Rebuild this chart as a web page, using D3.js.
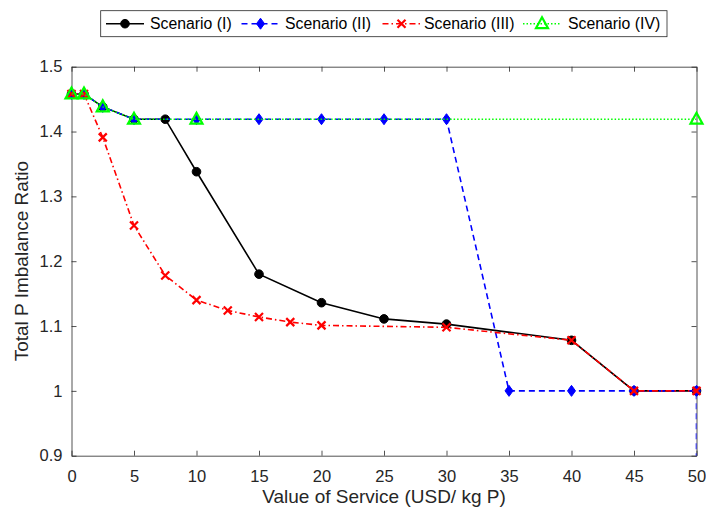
<!DOCTYPE html>
<html>
<head>
<meta charset="utf-8">
<script src="https://cdn.jsdelivr.net/npm/d3@7"></script>
<style>
  body { margin: 0; background: #fff; }
  svg { display: block; font-family: "Liberation Sans", Arial, sans-serif; }
</style>
</head>
<body>
<svg id="svg" width="706" height="515"></svg>
<script>
// data
const seriesNames = ["Scenario (I)", "Scenario (II)", "Scenario (III)", "Scenario (IV)"];

const xS1 = [0, 1, 2.5, 5, 7.5, 10, 15, 20, 25, 30, 40, 45, 50];
const yS1 = [1.458, 1.458, 1.438, 1.419, 1.419, 1.338, 1.180, 1.136, 1.111, 1.103, 1.078, 1.0, 1.0];

const xS2 = [0, 1, 2.5, 5, 10, 15, 20, 25, 30, 35, 40, 45, 50, 50];
const yS2 = [1.458, 1.458, 1.438, 1.419, 1.419, 1.419, 1.419, 1.419, 1.419, 1.0, 1.0, 1.0, 1.0, 0.0];

const xS3 = [0, 1, 2.5, 5, 7.5, 10, 12.5, 15, 17.5, 20, 30, 40, 45, 50];
const yS3 = [1.458, 1.458, 1.391, 1.255, 1.178, 1.140, 1.124, 1.114, 1.106, 1.101, 1.098, 1.078, 1.0, 1.0];

const xS4 = [0, 1, 2.5, 5, 10, 50];
const yS4 = [1.458, 1.458, 1.438, 1.419, 1.419, 1.419];

const xTicks = [0, 5, 10, 15, 20, 25, 30, 35, 40, 45, 50];
const yTicks = [0.9, 1.0, 1.1, 1.2, 1.3, 1.4, 1.5];
const yTickLabels = ["0.9", "1", "1.1", "1.2", "1.3", "1.4", "1.5"];

const xLabel = "Value of Service (USD/ kg P)";
const yLabel = "Total P Imbalance Ratio";

const axisColor = "#262626";
const plotLeft = 71.5, plotRight = 696.5, plotTop = 66.7, plotBottom = 455.7;

const svg = d3.select("#svg");

const xScale = d3.scaleLinear().domain([0, 50]).range([plotLeft, plotRight]);
const yScale = d3.scaleLinear().domain([0.9, 1.5]).range([plotBottom, plotTop]);

svg.append("defs").append("clipPath").attr("id", "plotclip")
  .append("rect")
  .attr("x", plotLeft).attr("y", plotTop)
  .attr("width", plotRight - plotLeft).attr("height", plotBottom - plotTop);

// axes (ticks point inwards, box on)
const styleAxis = function(sel){
  sel.selectAll("path, line").attr("stroke", axisColor).attr("stroke-width", 0.8);
  sel.selectAll("text").attr("fill", axisColor).attr("font-size", "16.5px")
    .attr("font-family", "Liberation Sans, Arial, sans-serif");
};

svg.append("g").attr("transform", `translate(0,${plotBottom})`)
  .call(d3.axisBottom(xScale).tickValues(xTicks).tickFormat(d3.format("d"))
    .tickSizeInner(-5).tickSizeOuter(0).tickPadding(15))
  .call(styleAxis);

svg.append("g").attr("transform", `translate(0,${plotTop})`)
  .call(d3.axisTop(xScale).tickValues(xTicks).tickFormat("")
    .tickSizeInner(-5).tickSizeOuter(0))
  .call(styleAxis);

svg.append("g").attr("transform", `translate(${plotLeft},0)`)
  .call(d3.axisLeft(yScale).tickValues(yTicks).tickFormat((d, i) => yTickLabels[i])
    .tickSizeInner(-5).tickSizeOuter(0).tickPadding(9))
  .call(styleAxis);

svg.append("g").attr("transform", `translate(${plotRight},0)`)
  .call(d3.axisRight(yScale).tickValues(yTicks).tickFormat("")
    .tickSizeInner(-5).tickSizeOuter(0))
  .call(styleAxis);

// axis labels
svg.append("text")
  .attr("x", (plotLeft + plotRight) / 2).attr("y", 503)
  .attr("text-anchor", "middle")
  .attr("font-size", "19px").attr("fill", axisColor)
  .text(xLabel);

svg.append("text")
  .attr("transform", `translate(28,${(plotTop + plotBottom) / 2}) rotate(-90)`)
  .attr("text-anchor", "middle")
  .attr("font-size", "19px").attr("fill", axisColor)
  .text(yLabel);

// markers
const drawMarker = function(g, kind, x, y){
  if(kind === "circle"){
    g.append("circle").attr("cx", x).attr("cy", y).attr("r", 4.3)
      .attr("fill", "#000").attr("stroke", "#000");
  } else if(kind === "diamond"){
    g.append("path")
      .attr("d", `M${x},${y - 5.5}L${x + 4},${y}L${x},${y + 5.5}L${x - 4},${y}Z`)
      .attr("fill", "#0000ff").attr("stroke", "#0000ff");
  } else if(kind === "cross"){
    g.append("path")
      .attr("d", `M${x - 4},${y - 4}L${x + 4},${y + 4}M${x - 4},${y + 4}L${x + 4},${y - 4}`)
      .attr("stroke", "#ff0000").attr("stroke-width", 2.2).attr("fill", "none");
  } else if(kind === "triangle"){
    g.append("path")
      .attr("d", `M${x},${y - 6.5}L${x + 6},${y + 4.5}L${x - 6},${y + 4.5}Z`)
      .attr("stroke", "#00ff00").attr("stroke-width", 2.2).attr("fill", "none");
  }
};

const series = [
  {name: seriesNames[0], xs: xS1, ys: yS1, color: "#000000", dash: null, marker: "circle"},
  {name: seriesNames[1], xs: xS2, ys: yS2, color: "#0000ff", dash: "6,4", marker: "diamond"},
  {name: seriesNames[2], xs: xS3, ys: yS3, color: "#ff0000", dash: "6,3,1.5,3", marker: "cross"},
  {name: seriesNames[3], xs: xS4, ys: yS4, color: "#00ff00", dash: "1.5,2", marker: "triangle"}
];

const line = d3.line().x(d => xScale(d[0])).y(d => yScale(d[1]));
const inView = p => p[1] >= yScale.domain()[0] && p[1] <= yScale.domain()[1];

series.forEach(s => {
  const pts = s.xs.map((x, i) => [x, s.ys[i]]);
  const g = svg.append("g");
  // the line is clipped to the axes, markers inside the range are drawn whole
  g.append("path")
    .datum(pts)
    .attr("clip-path", "url(#plotclip)")
    .attr("d", line)
    .attr("fill", "none")
    .attr("stroke", s.color)
    .attr("stroke-width", 1.6)
    .attr("stroke-dasharray", s.dash);
  pts.filter(inView).forEach(p => drawMarker(g, s.marker, xScale(p[0]), yScale(p[1])));
});

// legend
const legendX = [106, 241.5, 382.5, 523];
const legendTextX = [150, 285, 424, 568];
const legendY = 23.7;

svg.append("rect")
  .attr("x", 100.7).attr("y", 10.7)
  .attr("width", 566.3).attr("height", 26)
  .attr("fill", "#fff").attr("stroke", axisColor).attr("stroke-width", 0.8);

series.forEach((s, i) => {
  const g = svg.append("g");
  g.append("line")
    .attr("x1", legendX[i]).attr("x2", legendX[i] + 38)
    .attr("y1", legendY).attr("y2", legendY)
    .attr("stroke", s.color).attr("stroke-width", 1.5)
    .attr("stroke-dasharray", s.dash);
  drawMarker(g, s.marker, legendX[i] + 19, legendY);
  g.append("text")
    .attr("x", legendTextX[i]).attr("y", legendY)
    .attr("dy", "0.35em")
    .attr("font-size", "15.8px").attr("fill", "#000")
    .text(s.name);
});
</script>
</body>
</html>
